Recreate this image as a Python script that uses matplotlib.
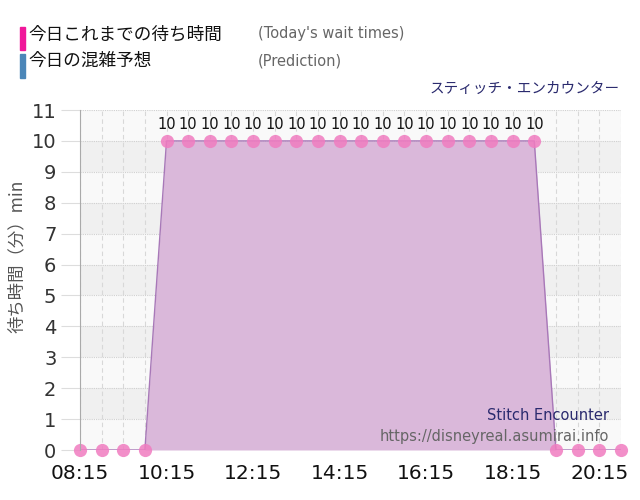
import matplotlib
matplotlib.use("Agg")
import matplotlib.pyplot as plt
from matplotlib.patches import Rectangle

plt.rcParams['font.family'] = ['DejaVu Sans', 'Noto Sans CJK JP']

# 08:15 から 30分おき
times = ["08:15", "08:45", "09:15", "09:45", "10:15", "10:45", "11:15", "11:45",
         "12:15", "12:45", "13:15", "13:45", "14:15", "14:45", "15:15", "15:45",
         "16:15", "16:45", "17:15", "17:45", "18:15", "18:45", "19:15", "19:45",
         "20:15", "20:45"]
waits = [0, 0, 0, 0, 10, 10, 10, 10, 10, 10, 10, 10, 10, 10, 10, 10, 10, 10,
         10, 10, 10, 10, 0, 0, 0, 0]
tick_labels = ["08:15", "10:15", "12:15", "14:15", "16:15", "18:15", "20:15"]


def to_min(s):
    h, m = s.split(":")
    return int(h) * 60 + int(m)


x = [to_min(t) for t in times]
xt = [to_min(t) for t in tick_labels]

fig = plt.figure(figsize=(6.4, 5.0), dpi=100)
ax = fig.add_axes([0.125, 0.1, 0.845, 0.68])

ax.set_facecolor('#f9f9f9')
for b in range(1, 11, 2):
    ax.axhspan(b, b + 1, color='#f0f0f0', zorder=0, lw=0)

for xv in x:
    ax.axvline(xv, color='#d8d8d8', lw=0.8, ls=(0, (4, 3)), zorder=1)
for yv in range(0, 12):
    ax.axhline(yv, color='#d0d0d0', lw=0.8, ls=(0, (1, 1)), zorder=1)

ax.fill_between(x, waits, 0, color='#dab8da', zorder=2, lw=0)
ax.plot(x, waits, color='#a878b8', lw=1, zorder=3)
ax.plot(x, waits, 'o', color='#f07cc0', alpha=0.85, ms=9.5, mec='none', zorder=4,
        clip_on=False)

for xv, yv in zip(x, waits):
    if yv > 0:
        ax.text(xv, yv + 0.3, str(yv), ha='center', va='bottom', fontsize=10.5,
                color='#111111', zorder=5)

ax.set_xlim(x[0], x[-1])
ax.set_ylim(0, 11)
ax.set_xticks(xt)
ax.set_xticklabels(tick_labels)
ax.set_yticks(range(0, 12))
ax.tick_params(axis='x', length=0, labelsize=14.5, colors='#111111', pad=10)
ax.tick_params(axis='y', length=14, width=0.8, color='#dddddd', labelsize=14,
               labelcolor='#333333', pad=3)
for s in ['top', 'right', 'bottom']:
    ax.spines[s].set_visible(False)
ax.spines['left'].set_color('#aaaaaa')
ax.spines['left'].set_zorder(6)
ax.set_ylabel("待ち時間（分）min", fontsize=12.5, color='#555555',
              family=['Noto Sans CJK JP', 'DejaVu Sans'])
ax.yaxis.set_label_coords(-0.10, 0.57)

# 凡例
fig.patches.append(Rectangle((20 / 640, 1 - 50 / 500), 5 / 640, 23 / 500,
                             transform=fig.transFigure, color='#f0189a'))
fig.patches.append(Rectangle((20 / 640, 1 - 78 / 500), 5 / 640, 24 / 500,
                             transform=fig.transFigure, color='#4b86b8'))
fig.text(28 / 640, 1 - 35 / 500, "今日これまでの待ち時間", fontsize=12.7, color='#111111',
         va='center', family=['Noto Sans CJK JP'])
fig.text(258 / 640, 1 - 33 / 500, "(Today's wait times)", fontsize=10.5, color='#666666',
         va='center')
fig.text(28 / 640, 1 - 61 / 500, "今日の混雑予想", fontsize=12.7, color='#111111',
         va='center', family=['Noto Sans CJK JP'])
fig.text(258 / 640, 1 - 61 / 500, "(Prediction)", fontsize=10.5, color='#666666',
         va='center')

fig.text(620 / 640, 1 - 89 / 500, "スティッチ・エンカウンター", fontsize=10.5, color='#2a2a6e',
         ha='right', va='center', family=['Noto Sans CJK JP'])

fig.text(609 / 640, 1 - 415 / 500, "Stitch Encounter", fontsize=10.5, color='#2a2a6e',
         ha='right', va='center', zorder=10)
fig.text(609 / 640, 1 - 436 / 500, "https://disneyreal.asumirai.info", fontsize=10.5,
         color='#666666', ha='right', va='center', zorder=10)

fig.savefig("out.png", dpi=100)
